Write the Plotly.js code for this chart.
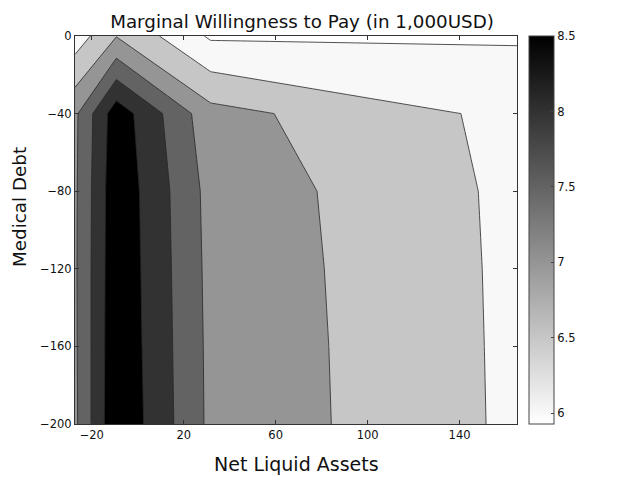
<!DOCTYPE html>
<html>
<head>
<meta charset="utf-8">
<script src="https://cdn.plot.ly/plotly-3.0.1.min.js"></script>
<style>
  html, body { margin: 0; padding: 0; background: #ffffff; }
  #chart { width: 640px; height: 479px; }
</style>
</head>
<body>
<div id="chart"></div>
<script>
// ---- data ----
const netLiquidAssets = [-27.3, -9.3, 31.7, 165];          // x grid (in 1,000USD)
const medicalDebt = [-200, -160, -120, -80, -40, 0];       // y grid
// marginal willingness to pay, one row per medical-debt level
const mwtpDebt200 = [7.40, 8.95, 7.39, 6.40];
const mwtpDebt160 = [7.42, 8.92, 7.38, 6.395];
const mwtpDebt120 = [7.43, 8.90, 7.36, 6.39];
const mwtpDebt80  = [7.42, 8.88, 7.33, 6.38];
const mwtpDebt40  = [7.40, 8.80, 7.17, 6.35];
const mwtpDebt0   = [6.22, 6.98, 5.93, 5.95];

const xTicks = [-20, 20, 60, 100, 140];
const yTicks = [0, -40, -80, -120, -160, -200];
const colorTicks = [6, 6.5, 7, 7.5, 8, 8.5];
const contourLevels = { start: 6, end: 8.5, size: 0.5 };
const colorMin = 5.93, colorMax = 8.5;

const z = [mwtpDebt200, mwtpDebt160, mwtpDebt120, mwtpDebt80, mwtpDebt40, mwtpDebt0];

const FONT = 'DejaVu Sans, Liberation Sans, sans-serif';

const contour = {
  type: 'contour',
  x: netLiquidAssets,
  y: medicalDebt,
  z: z,
  autocontour: false,
  contours: {
    start: contourLevels.start,
    end: contourLevels.end,
    size: contourLevels.size,
    coloring: 'fill',
    showlines: true
  },
  line: { color: '#262626', width: 0.8, smoothing: 0 },
  colorscale: [
    [0, '#ffffff'],
    [1/6, '#f8f8f8'],
    [2/6, '#c6c6c6'],
    [3/6, '#959595'],
    [4/6, '#636363'],
    [5/6, '#323232'],
    [1, '#000000']
  ],
  showscale: false,
  hoverinfo: 'skip'
};

// invisible helper trace that only provides the continuous gray colour bar
const colorbarTrace = {
  type: 'scatter',
  mode: 'markers',
  x: [netLiquidAssets[0]],
  y: [medicalDebt[0]],
  hoverinfo: 'skip',
  showlegend: false,
  marker: {
    size: 1,
    opacity: 0,
    color: [colorMin],
    cmin: colorMin,
    cmax: colorMax,
    colorscale: [[0, '#ffffff'], [1, '#000000']],
    showscale: true,
    colorbar: {
      x: 1.028, xanchor: 'left', xref: 'paper',
      y: 0.5, yanchor: 'middle', yref: 'paper',
      len: 1, lenmode: 'fraction',
      thickness: 25, thicknessmode: 'pixels',
      xpad: 0, ypad: 0,
      outlinecolor: '#444444', outlinewidth: 1,
      tickmode: 'array', tickvals: colorTicks,
      ticktext: colorTicks.map(v => String(v)),
      ticks: 'inside', ticklen: 3, tickcolor: '#444444',
      tickfont: { family: FONT, size: 11.5, color: '#111111' }
    }
  }
};

const layout = {
  width: 640,
  height: 479,
  margin: { l: 75, r: 123, t: 36, b: 55 },
  paper_bgcolor: '#ffffff',
  plot_bgcolor: '#ffffff',
  showlegend: false,
  hovermode: false,
  font: { family: FONT, color: '#111111' },
  title: {
    text: 'Marginal Willingness to Pay (in 1,000USD)',
    font: { family: FONT, size: 18.3, color: '#111111' },
    x: 302 / 640, xanchor: 'center', xref: 'container',
    y: 1 - 21.7 / 479, yanchor: 'middle', yref: 'container'
  },
  xaxis: {
    range: [netLiquidAssets[0], netLiquidAssets[netLiquidAssets.length - 1]],
    tickmode: 'array', tickvals: xTicks,
    ticks: 'inside', ticklen: 4, tickcolor: '#333333',
    mirror: 'ticks', showline: true, linecolor: '#333333', linewidth: 1,
    showgrid: false, zeroline: false,
    tickfont: { family: FONT, size: 11.5, color: '#111111' }
  },
  yaxis: {
    range: [medicalDebt[0], medicalDebt[medicalDebt.length - 1]],
    tickmode: 'array', tickvals: yTicks,
    ticks: 'inside', ticklen: 4, tickcolor: '#333333',
    mirror: 'ticks', showline: true, linecolor: '#333333', linewidth: 1,
    showgrid: false, zeroline: false,
    tickfont: { family: FONT, size: 11.5, color: '#111111' }
  },
  annotations: [
    {
      text: 'Net Liquid Assets',
      xref: 'paper', yref: 'paper',
      x: (296.7 - 75) / 442, y: (479 - 55 - 464) / 388,
      xanchor: 'center', yanchor: 'middle',
      showarrow: false,
      font: { family: FONT, size: 19, color: '#111111' }
    },
    {
      text: 'Medical Debt',
      textangle: -90,
      xref: 'paper', yref: 'paper',
      x: (19.2 - 75) / 442, y: (479 - 55 - 206.7) / 388,
      xanchor: 'center', yanchor: 'middle',
      showarrow: false,
      font: { family: FONT, size: 18.3, color: '#111111' }
    }
  ]
};

Plotly.newPlot('chart', [contour, colorbarTrace], layout, { displayModeBar: false, staticPlot: true });
</script>
</body>
</html>
